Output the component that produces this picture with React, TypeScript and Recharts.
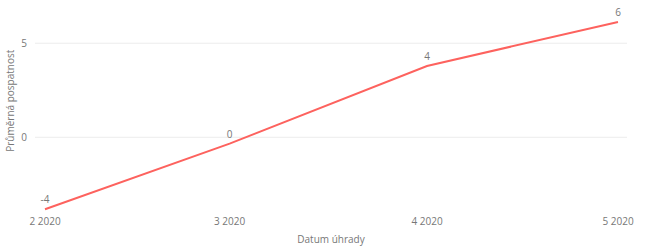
import React from "react";
import {
  LineChart,
  Line,
  XAxis,
  YAxis,
  CartesianGrid,
  LabelList,
} from "recharts";

// payment month (first day), average days past due
const months = ["2020-02-01", "2020-03-01", "2020-04-01", "2020-05-01"];
const avgOverdue = [-3.83, -0.34, 3.79, 6.13];
const yTicks = [0, 5];

const FONT = "'Segoe UI', 'Open Sans', sans-serif";
const TEXT = "#777";

const data = months.map((m, i) => ({
  date: new Date(m + "T00:00:00Z").getTime(),
  value: avgOverdue[i],
}));

const fmtMonth = (t: number) => {
  const d = new Date(t);
  return `${d.getUTCMonth() + 1} ${d.getUTCFullYear()}`;
};

const YTitle = (props: any) => {
  const { viewBox } = props;
  const x = viewBox.x + 10;
  const y = viewBox.y + viewBox.height / 2 - 13;
  return (
    <text
      x={x}
      y={y}
      transform={`rotate(-90, ${x}, ${y})`}
      textAnchor="middle"
      dominantBaseline="central"
      fontFamily={FONT}
      fontSize={10}
      fill={TEXT}
    >
      Průměrná pospatnost
    </text>
  );
};

export default function App() {
  return (
    <div style={{ position: "absolute", left: 0, top: 0, background: "#fff" }}>
      <LineChart
        width={654}
        height={247}
        data={data}
        margin={{ top: 15, right: 27, bottom: 0, left: 0 }}
      >
        <CartesianGrid
          vertical={false}
          horizontalValues={yTicks}
          stroke="#ececec"
          strokeWidth={1}
        />
        <XAxis
          dataKey="date"
          type="number"
          scale="time"
          domain={["dataMin", "dataMax"]}
          ticks={data.map((d) => d.date)}
          tickFormatter={fmtMonth}
          padding={{ left: 10, right: 9 }}
          axisLine={false}
          tickLine={false}
          tickSize={0}
          tickMargin={5}
          height={34.5}
          tick={{ fontSize: 10, fill: TEXT, fontFamily: FONT }}
          label={{
            value: "Datum úhrady",
            position: "insideBottom",
            offset: 4,
            fontSize: 10,
            fill: TEXT,
            fontFamily: FONT,
          }}
        />
        <YAxis
          width={35}
          domain={[-4, 6.5]}
          ticks={yTicks}
          axisLine={false}
          tickLine={false}
          tickSize={0}
          tickMargin={8}
          tick={{ fontSize: 10, fill: TEXT, fontFamily: FONT }}
          label={<YTitle />}
        />
        <Line
          type="linear"
          dataKey="value"
          stroke="#fd625e"
          strokeWidth={2}
          dot={false}
          activeDot={false}
          isAnimationActive={false}
        >
          <LabelList
            dataKey="value"
            position="top"
            offset={6}
            formatter={(v: any) => String(Math.round(Number(v)) || 0)}
            style={{ fontSize: 10, fill: TEXT, fontFamily: FONT }}
          />
        </Line>
      </LineChart>
    </div>
  );
}
